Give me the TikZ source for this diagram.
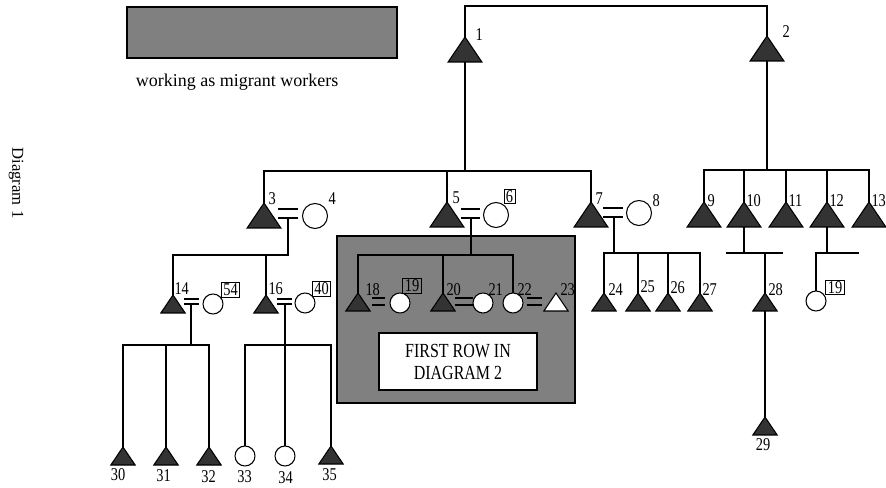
\documentclass[tikz,border=0pt]{standalone}
\usepackage{fontspec}
\setmainfont{Liberation Serif}
\newfontfamily\numfont[FakeStretch=0.8]{Liberation Serif}
\usetikzlibrary{shapes.geometric,calc}

\tikzset{
    bigtri/.style={isosceles triangle, isosceles triangle apex angle=68, shape border rotate=90,
        draw, fill=black!80, inner sep=0pt, outer sep=0pt,
        minimum width=18.75pt, minimum height=18.75pt, anchor=apex},
    smalltri/.style={bigtri, minimum width=13.5pt, minimum height=13.5pt},
    whitetri/.style={smalltri, fill=white},
    bigcirc/.style={circle, draw, fill=white, inner sep=0pt, outer sep=0pt, minimum size=18.75pt},
    smallcirc/.style={bigcirc, minimum size=15pt},
    num/.style={font=\numfont\fontsize{13.5}{13.5}\selectfont, inner sep=0pt, anchor=south west},
    numbox/.style={num, draw, anchor=center, inner xsep=1.5pt, inner ysep=1pt, line width=0.6pt},
    legbox/.style={draw, fill=black!50, minimum width=202.5pt, minimum height=38.25pt},
    famblock/.style={draw, fill=black!50, inner sep=0pt, minimum width=178.5pt, minimum height=125.25pt},
    notebox/.style={draw, fill=white, minimum width=118.5pt, minimum height=42.75pt,
        align=center, font=\numfont\fontsize{15}{16.5}\selectfont}
}

\begin{document}
\begin{tikzpicture}[x=0.75pt,y=0.75pt,yscale=-1,xscale=1,line width=0.8pt]
    \useasboundingbox (0,0) rectangle (886,488);

    % legend
    \node[legbox] (legend) at (262,32.5) {};
    \node[anchor=base west, font=\fontsize{13.5}{15}\selectfont] (legtext) at (131,87) {working as migrant workers};
    % Text Node
    \node[rotate=-90, font=\fontsize{12.5}{15}\selectfont] (title) at (16,183) {Diagram 1};

    % shaded block round the children of 5
    \node[famblock] (block) at (456,319.5) {};
    \node[notebox] (note) at (458,361.5) {FIRST ROW IN\\DIAGRAM 2};

    % generation 1
    \node[bigtri] (t1) at (465,37) {};
    \node[bigtri] (t2) at (767,36) {};

    % children of 1
    \node[bigtri] (t3) at (264,203) {};
    \node[bigcirc] (c4) at (315,216) {};
    \node[bigtri] (t5) at (447,202) {};
    \node[bigcirc] (c6) at (496,215) {};
    \node[bigtri] (t7) at (591,202) {};
    \node[bigcirc] (c8) at (639,213) {};

    % children of 2
    \node[bigtri] (t9) at (704,202) {};
    \node[bigtri] (t10) at (744,202) {};
    \node[bigtri] (t11) at (786,202) {};
    \node[bigtri] (t12) at (827,202) {};
    \node[bigtri] (t13) at (869,202) {};

    % children of 3
    \node[smalltri] (t14) at (173,295) {};
    \node[smallcirc] (c54) at (213,304) {};
    \node[smalltri] (t16) at (266,295) {};
    \node[smallcirc] (c40) at (305,303) {};

    % children of 5
    \node[smalltri] (t18) at (358,293) {};
    \node[smallcirc] (c19) at (400,303) {};
    \node[smalltri] (t20) at (443,293) {};
    \node[smallcirc] (c21) at (483,303) {};
    \node[smallcirc] (c22) at (513,303) {};
    \node[whitetri] (t23) at (556,293) {};

    % children of 7
    \node[smalltri] (t24) at (604,293) {};
    \node[smalltri] (t25) at (638,293) {};
    \node[smalltri] (t26) at (668,293) {};
    \node[smalltri] (t27) at (700,293) {};

    % children of 10 and 12
    \node[smalltri] (t28) at (765,293) {};
    \node[smalltri] (t29) at (765,417) {};
    \node[smallcirc] (c19b) at (816,301) {};

    % grandchildren of 3
    \node[smalltri] (t30) at (123,447) {};
    \node[smalltri] (t31) at (166,447) {};
    \node[smalltri] (t32) at (209,447) {};
    \node[smallcirc] (c33) at (245,456) {};
    \node[smallcirc] (c34) at (285,456) {};
    \node[smalltri] (t35) at (331,446) {};

    % lines of descent
    \draw (t1.apex) -- ++(0,-31) -| (t2.apex);
    \draw (t1.lower side) -- ++(0,109) coordinate (b1) -| (t3.apex);
    \draw (b1) -| (t7.apex);
    \draw (t5.apex) -- (t5.apex |- b1);
    \draw (t2.lower side) -- ++(0,109) coordinate (b2) -| (t9.apex);
    \draw (b2) -| (t13.apex);
    \draw (t10.apex) -- (t10.apex |- b2);
    \draw (t11.apex) -- (t11.apex |- b2);
    \draw (t12.apex) -- (t12.apex |- b2);

    % couple 3 = 4
    \draw (t3.apex) ++(14,6) -- ++(20,0);
    \draw (t3.apex) ++(14,15) -- ++(20,0);
    \draw (t3.apex) ++(24,15) -- ++(0,37) coordinate (b3) -| (t14.apex);
    \draw (t16.apex) -- (t16.apex |- b3);

    % couple 5 = 6
    \draw (t5.apex) ++(14,7) -- ++(19,0);
    \draw (t5.apex) ++(14,16) -- ++(19,0);
    \draw (t5.apex) ++(24,16) -- ++(0,37) coordinate (b5) -| (t18.apex);
    \draw (b5) -| (c22.north);
    \draw (t20.apex) -- (t20.apex |- b5);

    % couple 7 = 8
    \draw (t7.apex) ++(12,6) -- ++(20,0);
    \draw (t7.apex) ++(12,15) -- ++(20,0);
    \draw (t7.apex) ++(23,15) -- ++(0,36) coordinate (b7) -| (t24.apex);
    \draw (b7) -| (t27.apex);
    \draw (t25.apex) -- (t25.apex |- b7);
    \draw (t26.apex) -- (t26.apex |- b7);

    % couples 14 = 54 and 16 = 40
    \draw (t14.apex) ++(11,4) -- ++(15,0);
    \draw (t14.apex) ++(11,9) -- ++(15,0);
    \draw (t14.apex) ++(18,9) -- ++(0,41) coordinate (b14) -| (t30.apex);
    \draw (b14) -| (t32.apex);
    \draw (t31.apex) -- (t31.apex |- b14);
    \draw (t16.apex) ++(11,4) -- ++(15,0);
    \draw (t16.apex) ++(11,9) -- ++(15,0);
    \draw (t16.apex) ++(19,9) -- ++(0,41) coordinate (b16) -| (c33.north);
    \draw (b16) -- (c34.north);
    \draw (b16) -| (t35.apex);

    % couples inside the block
    \draw (t18.apex) ++(14,5) -- ++(13,0);
    \draw (t18.apex) ++(14,12) -- ++(13,0);
    \draw (t20.apex) ++(12,5) -- ++(18,0);
    \draw (t20.apex) ++(12,12) -- ++(18,0);
    \draw (c22.east) ++(4,-5) -- ++(15,0);
    \draw (c22.east) ++(4,2) -- ++(15,0);

    % under 10 and 12
    \draw (t10.lower side) -- ++(0,26) coordinate (b10);
    \draw (b10) ++(-18,0) -- ++(57,0);
    \draw (t28.apex) -- (t28.apex |- b10);
    \draw (t28.lower side) -- (t29.apex);
    \draw (t12.lower side) -- ++(0,26) coordinate (b12);
    \draw (c19b.north) |- (b12) -- ++(32,0);

    % Text Node
    \node[num] (n1) at (475,41) {1};
    \node[num] (n2) at (782,38) {2};
    \node[num] (n3) at (268,205) {3};
    \node[num] (n4) at (328,205) {4};
    \node[num] (n5) at (452,204) {5};
    \node[numbox] (n6) at (509.5,196.5) {6};
    \node[num] (n7) at (595,205) {7};
    \node[num] (n8) at (652,207) {8};
    \node[num] (n9) at (707,207) {9};
    \node[num] (n10) at (746,207) {10};
    \node[num] (n11) at (788,207) {11};
    \node[num] (n12) at (829,207) {12};
    \node[num] (n13) at (871,207) {13};
    \node[num] (n14) at (174,295) {14};
    \node[numbox] (n54) at (230.5,290) {54};
    \node[num] (n16) at (268,295) {16};
    \node[numbox] (n40) at (321.5,288.5) {40};
    \node[num] (n18) at (365,296) {18};
    \node[numbox] (n19) at (412,286) {19};
    \node[num] (n20) at (446,296) {20};
    \node[num] (n21) at (488,296) {21};
    \node[num] (n22) at (517,296) {22};
    \node[num] (n23) at (560,296) {23};
    \node[num] (n24) at (608,296) {24};
    \node[num] (n25) at (640,293) {25};
    \node[num] (n26) at (670,294) {26};
    \node[num] (n27) at (702,296) {27};
    \node[num] (n28) at (768,296) {28};
    \node[numbox] (n19b) at (835,287.5) {19};
    \node[num, anchor=center] (n29) at (763,445) {29};
    \node[num, anchor=center] (n30) at (118,475) {30};
    \node[num, anchor=center] (n31) at (163.5,476) {31};
    \node[num, anchor=center] (n32) at (208.5,477) {32};
    \node[num, anchor=center] (n33) at (244.5,477) {33};
    \node[num, anchor=center] (n34) at (285.5,478) {34};
    \node[num, anchor=center] (n35) at (329.5,475) {35};
\end{tikzpicture}
\end{document}
